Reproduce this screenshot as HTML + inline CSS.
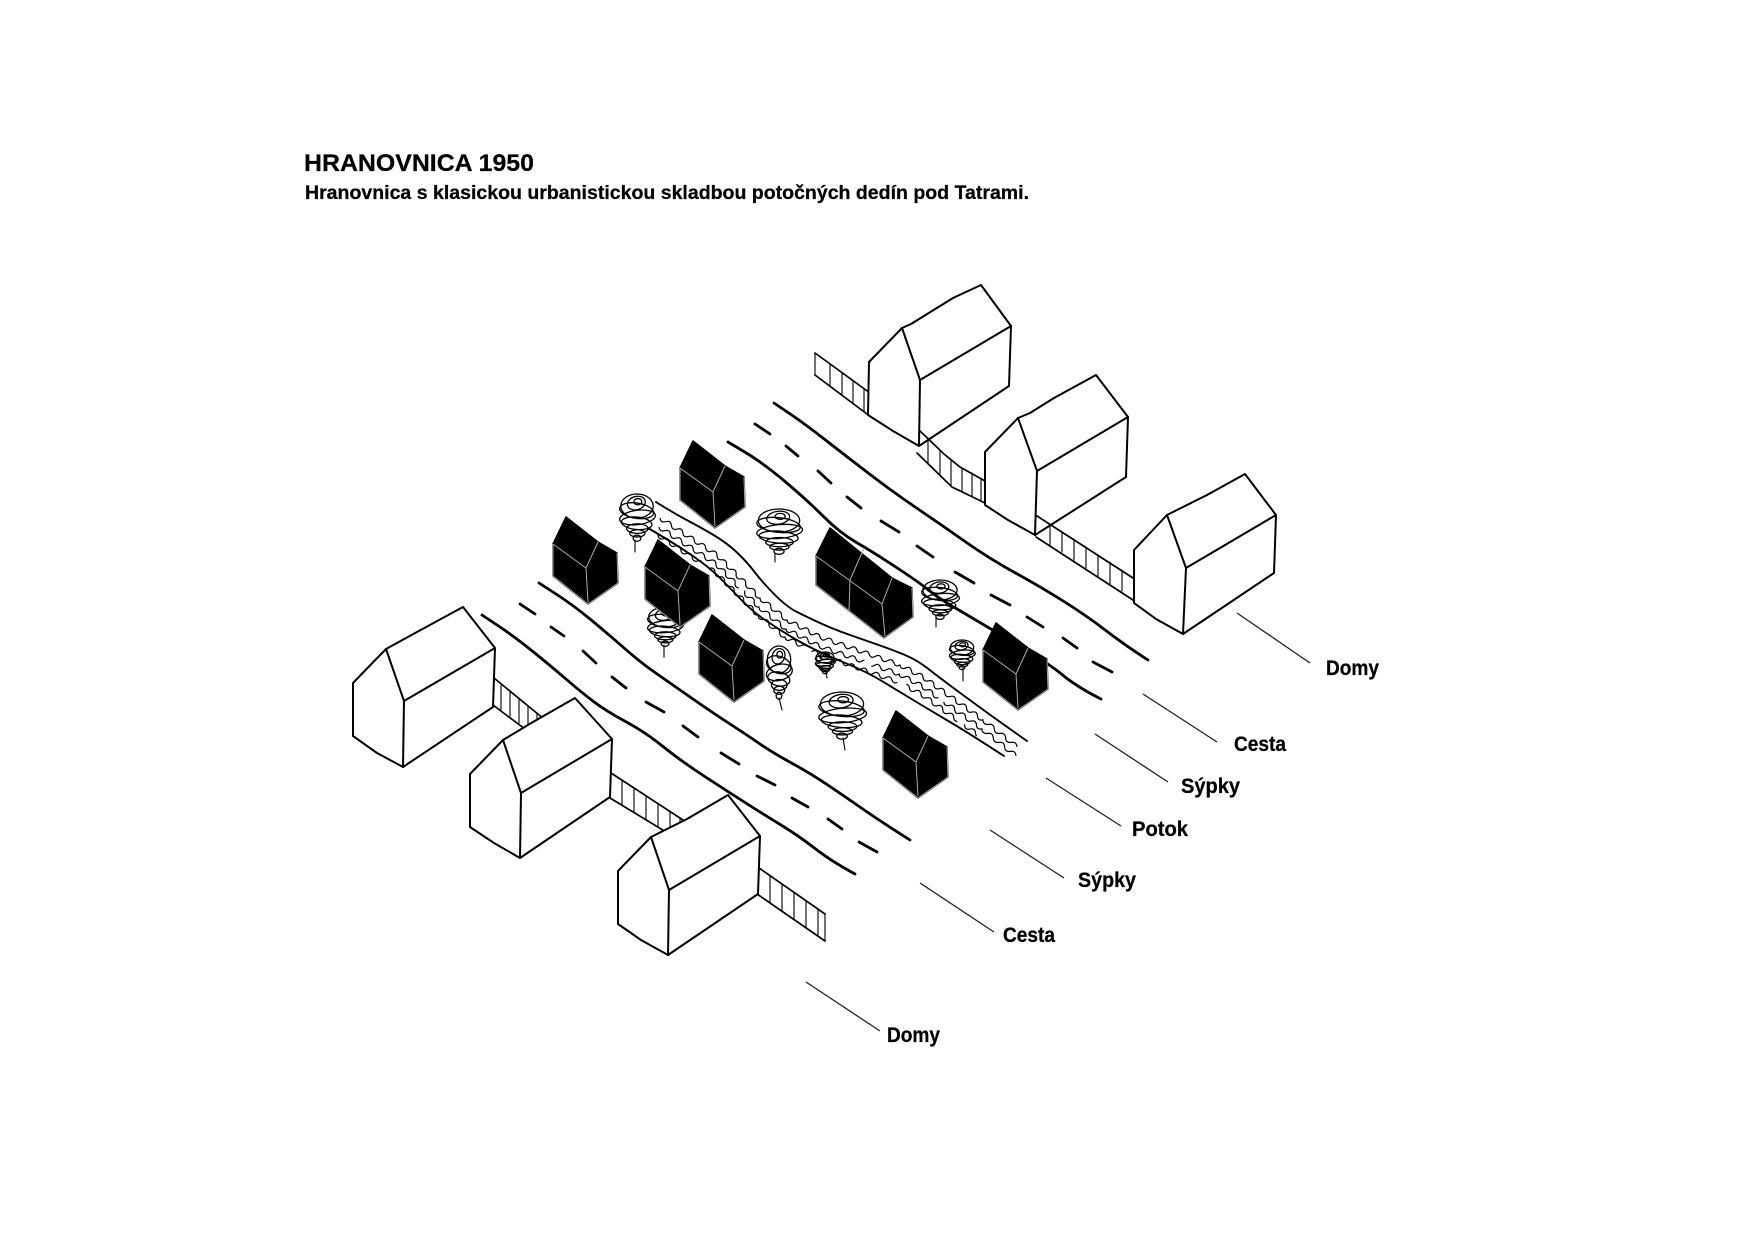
<!DOCTYPE html>
<html><head><meta charset="utf-8"><style>
html,body{margin:0;padding:0;background:#fff}
svg{display:block}
text{font-family:"Liberation Sans",sans-serif;font-weight:bold;fill:#000;stroke:#000;stroke-width:.25}
.h{fill:#fff;stroke:#000;stroke-width:2;stroke-linejoin:round;stroke-linecap:round}
.r{fill:none;stroke:#000;stroke-width:2.8;stroke-linejoin:round;stroke-linecap:round}
.d{fill:none;stroke:#000;stroke-width:2.8;stroke-linecap:round}
.f{fill:none;stroke:#000;stroke-width:1.1;stroke-linecap:round}
.fe{fill:none;stroke:#000;stroke-width:1.7;stroke-linecap:round}
.l{fill:none;stroke:#222;stroke-width:1.3}
.b{fill:none;stroke:#000;stroke-width:1.9;stroke-linecap:round;stroke-linejoin:round}
.w{fill:none;stroke:#000;stroke-width:1.2}
.k{fill:#000;stroke:#000;stroke-width:1.5;stroke-linejoin:round}
.g{fill:none;stroke:#aaa;stroke-width:1}
.t ellipse{fill:none;stroke:#000;stroke-width:1.3;vector-effect:non-scaling-stroke}
</style></head><body>
<svg width="1754" height="1240" viewBox="0 0 1754 1240" xmlns="http://www.w3.org/2000/svg">
<defs>
<g id="tr" class="t">
<ellipse cx="0" cy="-.5" rx=".9" ry=".5"/>
<ellipse cx=".05" cy="-.62" rx=".5" ry=".28" transform="rotate(-8)"/>
<ellipse cx=".05" cy="-.68" rx=".22" ry=".13"/>
<ellipse cx="-.05" cy="-.3" rx=".95" ry=".32" transform="rotate(6)"/>
<ellipse cx=".03" cy="-.02" rx="1" ry=".3" transform="rotate(-5)"/>
<ellipse cx="0" cy=".22" rx=".85" ry=".26" transform="rotate(4)"/>
<ellipse cx=".02" cy=".44" rx=".6" ry=".2"/>
<ellipse cx=".02" cy=".64" rx=".42" ry=".15"/>
<ellipse cx="0" cy=".84" rx=".22" ry=".13"/>
</g>
<g id="sy">
<path class="k" d="M13 -27L45 -2L64 9L65 39L35 60L0 32L0 0Z"/>
<path class="g" d="M0 0L33 24L45 -2M33 24L35 58M0 0L0 32L35 60L65 39L64 9"/>
</g>
<path id="wv" class="w" d="M660 518q.65 5.2 5.7 3.7t5.7 3.7 5.7 3.7 5.7 3.7 5.7 3.7 5.7 3.7 5.7 3.7 5.7 3.7 5.7 3.7 5.7 3.7q-.44 5.22 4.78 4.78t4.78 4.78 4.78 4.78 4.78 4.78 4.78 4.78 4.78 4.78 4.78 4.78 4.78 4.78 4.78 4.78q.2 5.3 5.4 4.4t5.4 4.4 5.4 4.4 5.4 4.4 5.4 4.4q.92 4.98 5.5 2.83t5.5 2.83 5.5 2.83 5.5 2.83 5.5 2.83 5.5 2.83q1.76 4.86 6.15 2.15t6.15 2.15 6.15 2.15 6.15 2.15 6.15 2.15 6.15 2.15 6.15 2.15 6.15 2.15 6.15 2.15 6.15 2.15 6.15 2.15 6.15 2.15 6.15 2.15q1.03 5.05 5.75 3t5.75 3 5.75 3 5.75 3q.4 5.2 5.45 3.9t5.45 3.9 5.45 3.9 5.45 3.9 5.45 3.9 5.45 3.9 5.45 3.9 5.45 3.9 5.45 3.9 5.45 3.9 5.45 3.9q.33 5.35 5.67 4.5t5.67 4.5 5.67 4.5 5.67 4.5 5.67 4.5 5.67 4.5"/>
</defs>

<text x="304" y="171" font-size="24.5" textLength="230" lengthAdjust="spacingAndGlyphs">HRANOVNICA 1950</text>
<text x="305" y="199" font-size="19" textLength="724" lengthAdjust="spacingAndGlyphs">Hranovnica s klasickou urbanistickou skladbou potočných dedín pod Tatrami.</text>

<!-- roads -->
<path class="r" d="M774 403L789.5 413.5Q805 424 825.5 440Q846 456 869.5 474Q893 492 918 509Q943 526 966.5 542.5Q990 559 1015.5 573Q1041 587 1064 601.5Q1087 616 1106.5 631Q1126 646 1148 660"/>
<path class="r" d="M728 442L745.5 452.5Q763 463 785 481.5Q807 500 823.5 516.5Q840 533 856.5 542.5Q873 552 896.5 567.5Q920 583 928.5 590Q937 597 952 606Q967 615 1007 638.5Q1047 662 1062 674.5Q1077 687 1101 699"/>
<path class="r" d="M482 615L498.5 626Q515 637 533.5 652Q552 667 566.5 679.5Q581 692 593.5 701.5Q606 711 625.5 721.5Q645 732 663 746.5Q681 761 704 776Q727 791 745 802.5Q763 814 781 825Q799 836 815 848.5Q831 861 855 874"/>
<path class="r" d="M539 583L556 594Q573 605 590 619Q607 633 623.5 647.5Q640 662 655 672.5Q670 683 691.5 698Q713 713 730 724Q747 735 760 744Q773 753 791.5 763Q810 773 828.5 785.5Q847 798 865 810.5Q883 823 910 840"/>
<g class="d">
<path d="M755 424L770 434M786 446L798 456M818 471L831 483M847 497L861 508M881 521L899 532M917 546L933 557M955 572L974 583M991 595L1010 605M1027 617L1043 627M1063 638L1077 648M1093 662L1112 672"/>
<path d="M520 604L535 614M551 627L564 636M583 651L596 663M612 677L626 688M646 702L664 712M683 726L698 737M721 753L739 764M757 776L775 785M792 798L808 807M828 819L842 829M859 842L877 852"/>
</g>

<!-- stream -->
<path class="b" d="M656 502L666.5 508.5Q677 515 688.5 521Q700 527 713.5 535Q727 543 737 552.5Q747 562 755 572.5Q763 583 775 595Q787 607 797 612Q807 617 820 623Q833 629 850 635Q867 641 880 645.5Q893 650 905 655Q917 660 928.5 669Q940 678 953.5 688Q967 698 983.5 710Q1000 722 1027 741"/>
<path class="b" d="M648 528L664 537.5Q680 547 695 557.5Q710 568 720 578Q730 588 741.5 600Q753 612 766.5 621Q780 630 792.5 637.5Q805 645 819 651.5Q833 658 850 665Q867 672 883.5 682Q900 692 916.5 702Q933 712 950 722Q967 732 1004 756"/>
<use href="#wv"/>
<use href="#wv" transform="translate(-1,9)" stroke-dasharray="120 7 170 10 90 8"/>
<use href="#wv" transform="translate(-2,17)" stroke-dasharray="60 12 150 9 110 11 75 9 20 900"/>

<!-- trees -->
<g>
<use href="#tr" transform="translate(637,518) scale(18,24)"/><path class="f" d="M635 540L635 552"/>
<use href="#tr" transform="translate(779,532) scale(23,23)"/><path class="f" d="M775 553L775 562"/>
<use href="#tr" transform="translate(665,627) scale(18,20)"/><path class="f" d="M664 645L664 657"/>
<use href="#tr" transform="translate(779,673) scale(13,27)"/><path class="f" d="M779 698L782 710"/>
<use href="#tr" transform="translate(825,663) scale(10,11)"/><path class="f" d="M826 672L827 678"/>
<use href="#tr" transform="translate(842,716) scale(24,24)"/><path class="f" d="M843 738L845 750"/>
<use href="#tr" transform="translate(962,655) scale(13,15)"/><path class="f" d="M963 668L963 681"/>
<use href="#tr" transform="translate(940,600) scale(19,20)"/><path class="f" d="M936 618L936 627"/>
</g>

<!-- black granaries -->
<use href="#sy" x="680" y="468"/>
<use href="#sy" x="553" y="544"/>
<use href="#sy" x="645" y="567"/>
<use href="#sy" x="699" y="642"/>
<use href="#sy" x="983" y="650"/>
<use href="#sy" x="883" y="738"/>
<g>
<path class="k" d="M830 528L892 578L912 588L913 617L884 638L816 585L816 556Z"/>
<path class="g" d="M816 556L882 604L892 578M882 604L885 636M816 556L816 585L884 638L913 617L912 588M850 580L864 548M850 580L849 611"/>
</g>

<!-- rear fences (behind houses) -->
<g class="f">
<path class="fe" d="M815 353L870 393M815 375L867 414"/>
<path d="M815 353V375M830 364V386M842 373V395M853 381V403M864 389V412"/>
<path class="fe" d="M494 678L544 719M493 705L525 729"/>
<path d="M501 684V710M510 691V716M519 698V723M528 706V729M537 713V722"/>
<path class="fe" d="M611 773L683 820M610 798L666 832"/>
<path d="M622 780V805M634 788V812M646 796V820M658 804V827M670 812V834M680 818V826"/>
<path class="fe" d="M759 868L825 914M757 894L825 941"/>
<path d="M770 876V903M782 884V912M794 892V920M806 901V928M818 909V936M825 914V941"/>
</g>

<!-- houses -->
<path class="h" d="M868 415L869 362L902 328L911 324L953 298L981 285L1011 326L1009 386L919 446L893 431Z"/>
<path class="h" d="M902 328L920 380L919 446M920 380L1011 326"/>
<path class="h" d="M985 505L985 452L1018 418L1030 413L1054 398L1096 375L1128 417L1126 477L1035 535L1008 520Z"/>
<path class="h" d="M1018 418L1037 471L1035 535M1037 471L1128 417"/>
<path class="h" d="M1134 603L1134 550L1167 515L1207 495L1245 474L1276 515L1274 573L1183 634L1156 619Z"/>
<path class="h" d="M1167 515L1186 568L1183 634M1186 568L1276 515"/>

<path class="h" d="M353 736L353 683L386 649L417 632L463 607L495 648L493 707L403 767L377 753Z"/>
<path class="h" d="M386 649L404 701L403 767M404 701L495 648"/>
<path class="h" d="M470 827L470 774L503 740L533 722L575 698L612 739L610 797L520 858L494 843Z"/>
<path class="h" d="M503 740L521 793L520 858M521 793L612 739"/>
<path class="h" d="M618 924L618 871L651 837L687 819L728 795L760 836L758 894L668 955L641 940Z"/>
<path class="h" d="M651 837L669 890L668 955M669 890L760 836"/>

<!-- front fences (over house corners) -->
<g class="f">
<path class="fe" d="M920 431L944 454L960 467L985 481M917 453L952 487L985 503"/>
<path d="M928 440V463M940 451V475M951 460V486M962 468V492M972 473V496M981 478V500"/>
<path class="fe" d="M1037 516L1133 578M1036 537L1133 600"/>
<path d="M1050 524V545M1062 532V552M1074 539V560M1086 547V568M1098 555V576M1110 562V584M1122 570V591"/>
</g>

<!-- leaders -->
<g class="l">
<path d="M1237 613L1310 663"/>
<path d="M1143 694L1217 742"/>
<path d="M1095 734L1168 782"/>
<path d="M1046 778L1121 826"/>
<path d="M990 830L1064 878"/>
<path d="M920 883L994 932"/>
<path d="M806 982L880 1031"/>
</g>

<!-- labels -->
<g font-size="21">
<text x="1326" y="675" textLength="53" lengthAdjust="spacingAndGlyphs">Domy</text>
<text x="1234" y="751" textLength="52" lengthAdjust="spacingAndGlyphs">Cesta</text>
<text x="1181" y="793" textLength="59" lengthAdjust="spacingAndGlyphs">Sýpky</text>
<text x="1132" y="836" textLength="56" lengthAdjust="spacingAndGlyphs">Potok</text>
<text x="1078" y="887" textLength="58" lengthAdjust="spacingAndGlyphs">Sýpky</text>
<text x="1003" y="942" textLength="52" lengthAdjust="spacingAndGlyphs">Cesta</text>
<text x="887" y="1042" textLength="53" lengthAdjust="spacingAndGlyphs">Domy</text>
</g>
</svg>
</body></html>
